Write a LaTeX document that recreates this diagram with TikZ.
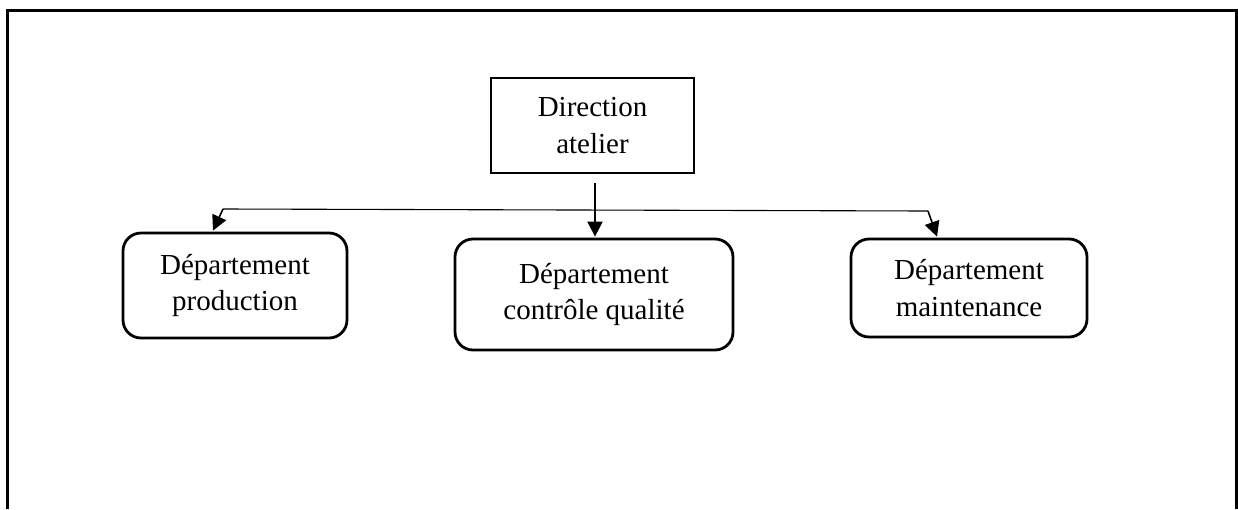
\documentclass[tikz,border=0pt]{standalone}
\usepackage{fontspec}
\setmainfont{Liberation Serif}
\usetikzlibrary{arrows.meta}
\begin{document}
\begin{tikzpicture}[x=1pt,y=-1pt,
  lbl/.style={font=\fontsize{29}{36.5}\selectfont, align=center, inner sep=0pt},
  chief/.style={lbl, draw, line width=2.8pt},
  dept/.style={lbl, draw, line width=2.8pt, rounded corners=18pt},
  link/.style={line width=1.1pt},
  arr/.style={-{Triangle[length=15pt,width=15pt]}}
]
\useasboundingbox (0,0) rectangle (1238,509);
% outer frame, open at the bottom
\draw[line width=3pt] (7.5,509) -- (7.5,10) -- (1236,10) -- (1236,509);

% head of the workshop
\node[chief, minimum width=203pt, minimum height=95pt] (dir) at (592.5,125.5) {Direction\\atelier};

% departments
\node[dept, minimum width=224pt, minimum height=105pt] (prod) at (235,285.5) {Département\\production};
\node[dept, minimum width=278pt, minimum height=111pt] (qual) at (594,294.5) {Département\\contrôle qualité};
\node[dept, minimum width=236pt, minimum height=98pt] (maint) at (969,288) {Département\\maintenance};

% distribution line
\coordinate (jL) at (223,209);
\coordinate (jR) at (928,211);
\draw[link] (jL) -- (jR);

% arrows
\draw[arr, line width=2.2pt] ([xshift=2.5pt,yshift=-9pt]dir.south) -- ([xshift=1pt,yshift=1pt]qual.north);
\draw[arr, line width=1.6pt] (jL) -- ([xshift=-22pt,yshift=1pt]prod.north);
\draw[arr, line width=1.6pt] (jR) -- ([xshift=-32pt,yshift=1pt]maint.north);
\end{tikzpicture}
\end{document}
